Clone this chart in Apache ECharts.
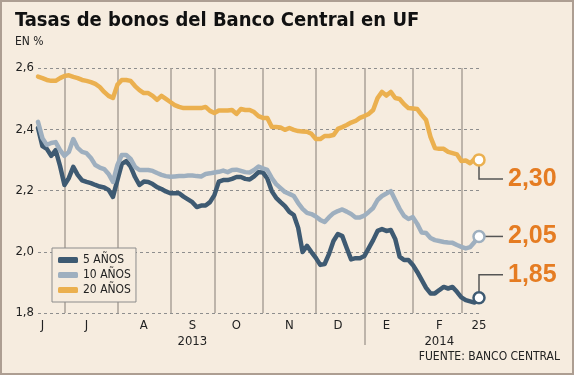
<!DOCTYPE html>
<html>
<head>
<meta charset="utf-8">
<script src="https://cdn.jsdelivr.net/npm/echarts@6/dist/echarts.min.js"></script>
<style>
  html, body { margin: 0; padding: 0; background: #f6ecdf; }
  #chart { width: 574px; height: 375px; }
</style>
</head>
<body>
<div id="chart"></div>
<script>
// Tasas de bonos del Banco Central en UF (jun 2013 - 25 feb 2014)
const tickLabels = ['J', 'J', 'A', 'S', 'O', 'N', 'D', 'E', 'F', '25'];
const tickIdx = [1, 11, 24, 35, 45, 57, 68, 79, 91, 100];
const yearLabels = { 35: '2013', 91: '2014' };
const monthBreaks = [6, 18, 30, 40, 51, 63, 74, 85, 96];
const yearBreak = 74;

const bono5 = [
  2.404, 2.345, 2.336, 2.313, 2.332, 2.280, 2.218, 2.241, 2.277, 2.251,
  2.233, 2.228, 2.224, 2.218, 2.213, 2.210, 2.202, 2.179, 2.234, 2.287,
  2.296, 2.278, 2.244, 2.218, 2.229, 2.228, 2.221, 2.211, 2.205, 2.197,
  2.191, 2.191, 2.191, 2.180, 2.171, 2.162, 2.146, 2.151, 2.151, 2.162,
  2.185, 2.229, 2.234, 2.234, 2.238, 2.244, 2.244, 2.238, 2.236, 2.246,
  2.260, 2.259, 2.239, 2.198, 2.176, 2.162, 2.149, 2.130, 2.120, 2.078,
  1.999, 2.019, 1.999, 1.980, 1.957, 1.960, 1.993, 2.035, 2.058, 2.051,
  2.012, 1.975, 1.979, 1.979, 1.986, 2.012, 2.038, 2.068, 2.074, 2.068,
  2.071, 2.042, 1.984, 1.973, 1.973, 1.957, 1.934, 1.908, 1.882, 1.864,
  1.864, 1.875, 1.885, 1.880, 1.885, 1.869, 1.851, 1.842, 1.838, 1.834,
  1.85
];
const bono10 = [
  2.424, 2.371, 2.349, 2.355, 2.358, 2.332, 2.313, 2.326, 2.368, 2.339,
  2.326, 2.322, 2.306, 2.283, 2.275, 2.270, 2.254, 2.228, 2.283, 2.316,
  2.316, 2.303, 2.277, 2.267, 2.267, 2.267, 2.264, 2.257, 2.251, 2.247,
  2.245, 2.246, 2.247, 2.247, 2.249, 2.249, 2.247, 2.246, 2.254, 2.256,
  2.259, 2.261, 2.265, 2.260, 2.267, 2.268, 2.264, 2.260, 2.259, 2.267,
  2.278, 2.272, 2.267, 2.241, 2.221, 2.208, 2.195, 2.189, 2.182, 2.159,
  2.140, 2.127, 2.123, 2.115, 2.104, 2.097, 2.113, 2.126, 2.133, 2.138,
  2.131, 2.123, 2.112, 2.112, 2.118, 2.130, 2.143, 2.169, 2.182, 2.190,
  2.198, 2.169, 2.140, 2.117, 2.107, 2.113, 2.091, 2.063, 2.061, 2.045,
  2.038, 2.035, 2.032, 2.030, 2.029, 2.022, 2.016, 2.011, 2.015, 2.032,
  2.05
];
const bono20 = [
  2.572, 2.567, 2.561, 2.558, 2.558, 2.567, 2.574, 2.576, 2.571, 2.567,
  2.561, 2.558, 2.554, 2.548, 2.538, 2.522, 2.509, 2.502, 2.545, 2.561,
  2.561, 2.558, 2.541, 2.528, 2.518, 2.518, 2.509, 2.496, 2.509, 2.499,
  2.489, 2.479, 2.473, 2.469, 2.469, 2.469, 2.469, 2.469, 2.473, 2.460,
  2.453, 2.461, 2.461, 2.461, 2.463, 2.450, 2.466, 2.463, 2.463, 2.456,
  2.443, 2.437, 2.437, 2.408, 2.407, 2.406, 2.398, 2.404, 2.398, 2.394,
  2.393, 2.392, 2.385, 2.368, 2.368, 2.378, 2.378, 2.381, 2.401, 2.407,
  2.414, 2.422, 2.427, 2.437, 2.443, 2.450, 2.463, 2.502, 2.522, 2.510,
  2.522, 2.502, 2.499, 2.482, 2.469, 2.468, 2.466, 2.447, 2.430, 2.375,
  2.339, 2.336, 2.336, 2.326, 2.322, 2.318, 2.296, 2.298, 2.289, 2.303,
  2.30
];

const seriesNames = ['5 AÑOS', '10 AÑOS', '20 AÑOS'];
const seriesColors = ['#3e5a72', '#9eafbf', '#ebb04f'];
const seriesData = [bono5, bono10, bono20];
const calloutDy = [-23, 0, 19]; // desplazamiento vertical del rótulo final

const categories = bono5.map((_, i) => {
  const k = tickIdx.indexOf(i);
  return k < 0 ? '' : tickLabels[k];
});
const last = bono5.length - 1;
const fmt = v => v.toFixed(2).replace('.', ',');

const FONT = 'DejaVu Sans Condensed';
const chart = echarts.init(document.getElementById('chart'));

chart.setOption({
  animation: false,
  backgroundColor: '#f6ecdf',
  title: {
    text: 'Tasas de bonos del Banco Central en UF',
    subtext: 'EN %',
    left: 10, top: 6, itemGap: 5,
    textStyle: { fontFamily: FONT, fontWeight: 'bold', fontSize: 20, color: '#111' },
    subtextStyle: { fontFamily: FONT, fontSize: 12, color: '#222' },
  },
  legend: {
    orient: 'vertical',
    left: 52, top: 248,
    padding: [6, 5, 6, 6],
    itemGap: 3,
    itemWidth: 20, itemHeight: 6,
    backgroundColor: '#f6ecdf',
    borderColor: '#8c8c8c', borderWidth: 1,
    textStyle: { fontFamily: FONT, fontSize: 12, color: '#222' },
    data: seriesNames.map(n => ({ name: n, icon: 'roundRect' })),
  },
  grid: { left: 38, right: 95, top: 68, bottom: 62 },
  xAxis: {
    type: 'category',
    boundaryGap: false,
    data: categories,
    axisLine: { show: false },
    axisTick: {
      show: true, length: 32,
      interval: i => i === yearBreak,
      lineStyle: { color: '#aaa298', width: 1.5 },
    },
    axisLabel: {
      interval: (i, v) => v !== '',
      margin: 5,
      fontFamily: FONT, fontSize: 13, color: '#222', lineHeight: 16,
      formatter: (v, i) => yearLabels[i] ? v + '\n' + yearLabels[i] : v,
    },
    splitLine: {
      show: true,
      interval: i => monthBreaks.includes(i),
      lineStyle: { color: '#aaa298', width: 1.5 },
    },
  },
  yAxis: {
    type: 'value',
    min: 1.8, max: 2.6, interval: 0.2,
    axisLine: { show: false },
    axisTick: { show: false },
    axisLabel: { margin: 4, fontFamily: FONT, fontSize: 13, color: '#222', formatter: v => v.toFixed(1).replace('.', ',') },
    splitLine: { lineStyle: { color: '#8e8e8e', type: [3, 3], width: 1 } },
  },
  series: seriesNames.map((name, k) => ({
    name,
    type: 'line',
    data: seriesData[k],
    symbol: 'none',
    color: seriesColors[k],
    lineStyle: { width: 4.5, color: seriesColors[k], join: 'round', cap: 'round' },
    markPoint: {
      symbol: 'circle', symbolSize: 11,
      itemStyle: { color: '#fff', borderColor: seriesColors[k], borderWidth: 2.5 },
      label: { show: false },
      data: [{ coord: [last, seriesData[k][last]] }],
    },
  })),
});

// rótulos finales con líneas guía, ubicados con la escala del gráfico
const graphics = [{
  type: 'rect', silent: true, z: 100,
  shape: { x: 1, y: 1, width: 572, height: 373 },
  style: { fill: 'none', stroke: '#ad9e92', lineWidth: 2 },
}, {
  type: 'text', right: 14, top: 351,
  style: { text: 'FUENTE: BANCO CENTRAL', font: '12px "' + FONT + '"', fill: '#222' },
}];
seriesData.forEach((d, k) => {
  const p = chart.convertToPixel({ xAxisIndex: 0, yAxisIndex: 0 }, [last, d[last]]);
  const dy = calloutDy[k];
  const yEnd = p[1] + dy;
  const pts = dy === 0
    ? [[p[0] + 6, p[1]], [503, p[1]]]
    : [[p[0], p[1] + Math.sign(dy) * 6], [p[0], yEnd], [503, yEnd]];
  graphics.push({
    type: 'polyline', silent: true,
    shape: { points: pts },
    style: { stroke: '#555', lineWidth: 1.5, fill: 'none' },
  });
  graphics.push({
    type: 'text', silent: true, x: 508, y: yEnd,
    style: {
      text: fmt(d[last]), fill: '#e57c22',
      font: 'bold 25px "Liberation Sans"', verticalAlign: 'middle',
    },
  });
});
chart.setOption({ graphic: graphics });
</script>
</body>
</html>
